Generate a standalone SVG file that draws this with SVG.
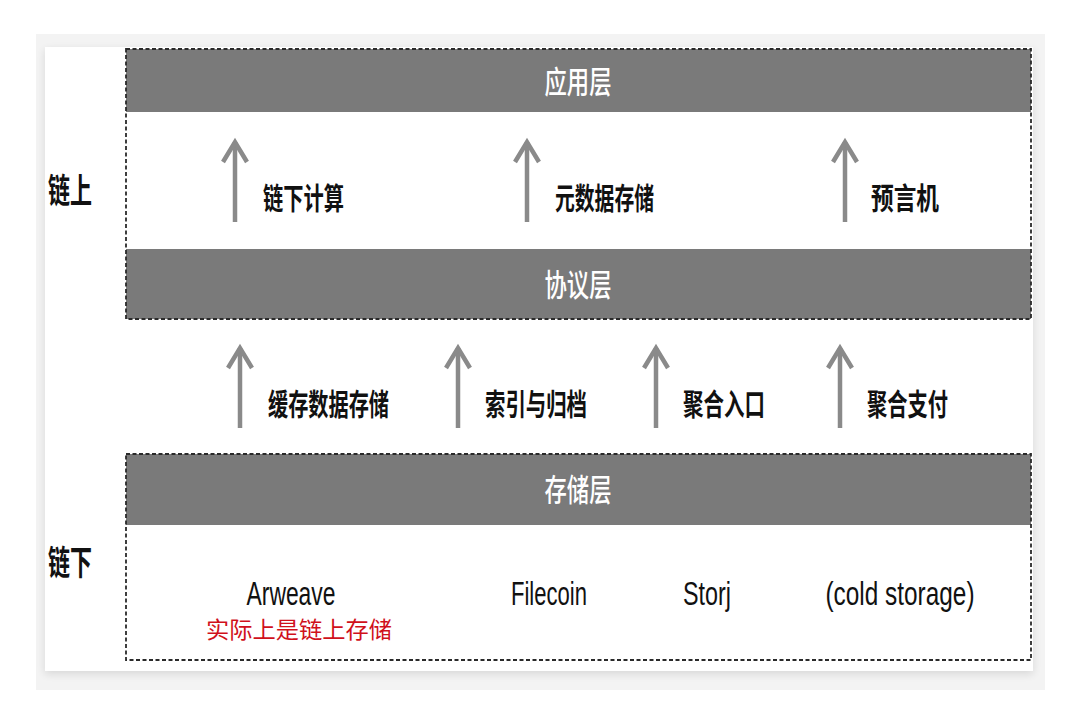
<svg xmlns="http://www.w3.org/2000/svg" width="1080" height="726" viewBox="0 0 1080 726">
<defs>
<style>
.band{fill:#7a7a7a;}
.dash{fill:none;stroke:#2a2a2a;stroke-width:1.8;stroke-dasharray:4 2.5;}
.arr{stroke:#8a8a8a;stroke-width:4.5;fill:none;stroke-linecap:butt;}
.head{stroke:#8a8a8a;stroke-width:4.5;fill:none;stroke-linejoin:miter;}
.lbl{font-family:"Noto Sans CJK SC","Noto Sans",sans-serif;font-weight:700;font-size:30px;fill:#111;}
.side{font-family:"Noto Sans CJK SC","Noto Sans",sans-serif;font-weight:700;font-size:34px;fill:#111;}
.title{font-family:"Noto Sans CJK SC","Noto Sans",sans-serif;font-weight:500;font-size:31px;fill:#fff;text-anchor:middle;}
.en{font-family:"Liberation Sans","Noto Sans",sans-serif;font-size:33px;fill:#111;text-anchor:middle;}
.red{font-family:"Noto Sans CJK SC","Noto Sans",sans-serif;font-size:23px;fill:#d0101b;text-anchor:middle;}
</style>
<filter id="sh" x="-5%" y="-5%" width="110%" height="110%">
<feGaussianBlur in="SourceAlpha" stdDeviation="4"/>
<feOffset dx="0" dy="3"/>
<feComponentTransfer><feFuncA type="linear" slope="0.12"/></feComponentTransfer>
<feMerge><feMergeNode/><feMergeNode in="SourceGraphic"/></feMerge>
</filter>
</defs>
<rect width="1080" height="726" fill="#ffffff"/>
<rect x="36" y="34" width="1009" height="656" fill="#f3f3f3"/>
<rect x="45" y="47" width="988" height="624" fill="#ffffff" filter="url(#sh)"/>

<g id="layer-app">
<rect class="band" x="126" y="49" width="905" height="63"/>
<text class="title" x="578" y="93" textLength="67" lengthAdjust="spacingAndGlyphs">应用层</text>
</g>
<g id="layer-protocol">
<rect class="band" x="126" y="249" width="905" height="70"/>
<text class="title" x="578" y="296" textLength="67" lengthAdjust="spacingAndGlyphs">协议层</text>
</g>
<g id="onchain-box">
<rect class="dash" x="126" y="49" width="905" height="270"/>
</g>
<g id="layer-storage">
<rect class="band" x="126" y="454" width="905" height="71"/>
<text class="title" x="578" y="501" textLength="67" lengthAdjust="spacingAndGlyphs">存储层</text>
<rect class="dash" x="126" y="454" width="905" height="206"/>
</g>

<g id="side-labels">
<text class="side" x="48" y="203" textLength="44" lengthAdjust="spacingAndGlyphs">链上</text>
<text class="side" x="48" y="575" textLength="44" lengthAdjust="spacingAndGlyphs">链下</text>
</g>

<g id="connectors">
<line class="arr" x1="235" y1="142" x2="235" y2="222"/>
<polyline class="head" points="223,162 235,142 247,162"/>
<line class="arr" x1="527" y1="142" x2="527" y2="222"/>
<polyline class="head" points="515,162 527,142 539,162"/>
<line class="arr" x1="845" y1="142" x2="845" y2="222"/>
<polyline class="head" points="833,162 845,142 857,162"/>
<line class="arr" x1="240" y1="348" x2="240" y2="428"/>
<polyline class="head" points="228,368 240,348 252,368"/>
<line class="arr" x1="458" y1="348" x2="458" y2="428"/>
<polyline class="head" points="446,368 458,348 470,368"/>
<line class="arr" x1="656" y1="348" x2="656" y2="428"/>
<polyline class="head" points="644,368 656,348 668,368"/>
<line class="arr" x1="840" y1="348" x2="840" y2="428"/>
<polyline class="head" points="828,368 840,348 852,368"/>
</g>

<g id="label-offchain-compute"><text class="lbl" x="263" y="209" textLength="81" lengthAdjust="spacingAndGlyphs">链下计算</text></g>
<g id="label-metadata"><text class="lbl" x="555" y="209" textLength="99" lengthAdjust="spacingAndGlyphs">元数据存储</text></g>
<g id="label-oracle"><text class="lbl" x="871" y="209" textLength="68" lengthAdjust="spacingAndGlyphs">预言机</text></g>
<g id="label-cache"><text class="lbl" x="268" y="415" textLength="121" lengthAdjust="spacingAndGlyphs">缓存数据存储</text></g>
<g id="label-index"><text class="lbl" x="485" y="415" textLength="102" lengthAdjust="spacingAndGlyphs">索引与归档</text></g>
<g id="label-entry"><text class="lbl" x="683" y="415" textLength="82" lengthAdjust="spacingAndGlyphs">聚合入口</text></g>
<g id="label-payment"><text class="lbl" x="867" y="415" textLength="81" lengthAdjust="spacingAndGlyphs">聚合支付</text></g>

<g id="node-arweave">
<text class="en" x="291" y="605" textLength="89" lengthAdjust="spacingAndGlyphs">Arweave</text>
<text class="red" x="299" y="638" textLength="186" lengthAdjust="spacingAndGlyphs">实际上是链上存储</text>
</g>
<g id="node-filecoin"><text class="en" x="549" y="605" textLength="76" lengthAdjust="spacingAndGlyphs">Filecoin</text></g>
<g id="node-storj"><text class="en" x="707" y="605" textLength="48" lengthAdjust="spacingAndGlyphs">Storj</text></g>
<g id="node-cold"><text class="en" x="900" y="605" textLength="149" lengthAdjust="spacingAndGlyphs">(cold storage)</text></g>
</svg>
